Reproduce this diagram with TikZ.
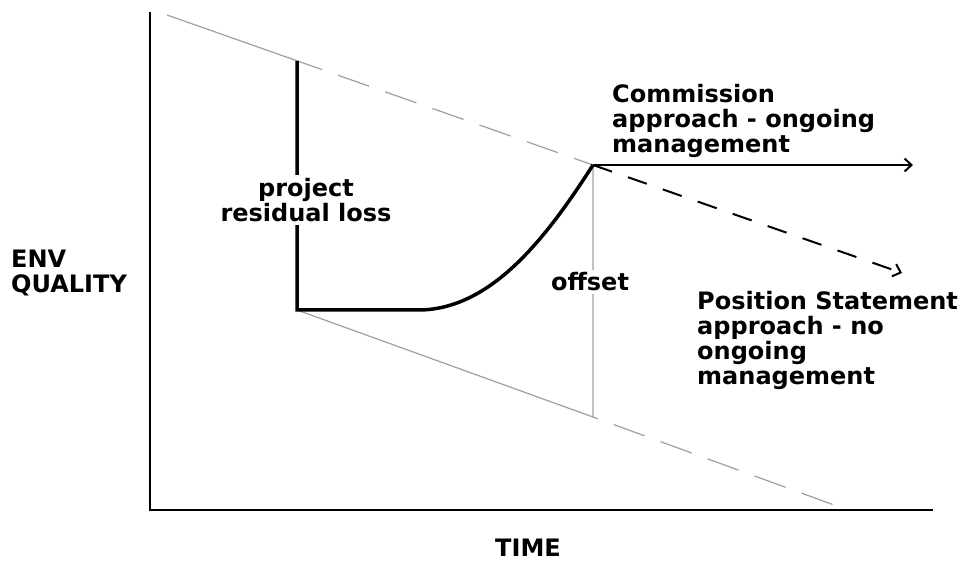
\documentclass[tikz,border=0pt]{standalone}
\usepackage{fontspec}
\setmainfont{DejaVu Sans}
\usetikzlibrary{arrows.meta}

\begin{document}
\begin{tikzpicture}[x=1pt,y=-1pt,
  lbl/.style={font=\bfseries\fontsize{24}{25}\selectfont,inner sep=0pt,align=left},
  axis/.style={line width=2pt},
  trend/.style={gray!75,line width=1.2pt},
  trenddash/.style={trend,dash pattern=on 33pt off 17pt,dash phase=33pt},
  gain/.style={line width=3.5pt,line join=miter},
  tip/.style={-{Straight Barb[length=7pt,width=13pt,line width=2pt]}}]
\useasboundingbox (0,0) rectangle (969,561);

% axes
\coordinate (top) at (150,12);
\coordinate (origin) at (150,510);
\coordinate (right) at (933,510);
\draw[axis] (top) -- (origin) -- (right);

% decline lines
\coordinate (start) at (167,15);
\coordinate (hi) at (297,60.8);
\coordinate (brk) at (322,69.6);
\coordinate (peak) at (593,165);
\coordinate (low) at (297,310);
\coordinate (flat) at (418,310);
\coordinate (foot) at (593,417);
\coordinate (end) at (845,509);

\draw[trend] (start) -- (brk);
\draw[trenddash] (brk) -- (peak);
\draw[trend] (low) -- (foot) -- (peak);
\draw[trenddash,dash phase=28pt] (foot) -- (end);

% loss and recovery
\draw[gain] (hi) -- (low) -- (flat)
  .. controls (490,310) and (545,240) .. (peak);

% the two approaches
\coordinate (goal) at (913,165);
\coordinate (drift) at (902,273);
\draw[line width=2pt,tip] (peak) -- (goal);
\draw[line width=2pt,tip,dash pattern=on 20pt off 17pt] (peak) -- (drift);

% labels
\node[lbl,anchor=north west] (envq) at (11,250) {ENV\\QUALITY};
\node[lbl] (time) at (528,548) {TIME};
\node[lbl,align=center,fill=white,inner sep=3pt] (loss) at (306,200) {project\\residual loss};
\node[lbl,fill=white,inner sep=3pt] (offs) at (590,282) {offset};
\node[lbl,anchor=north west] (comm) at (612,84) {Commission\\approach - ongoing\\management};
\node[lbl,anchor=north west] (posn) at (697,291) {Position Statement\\approach - no\\ongoing\\management};
\end{tikzpicture}
\end{document}
